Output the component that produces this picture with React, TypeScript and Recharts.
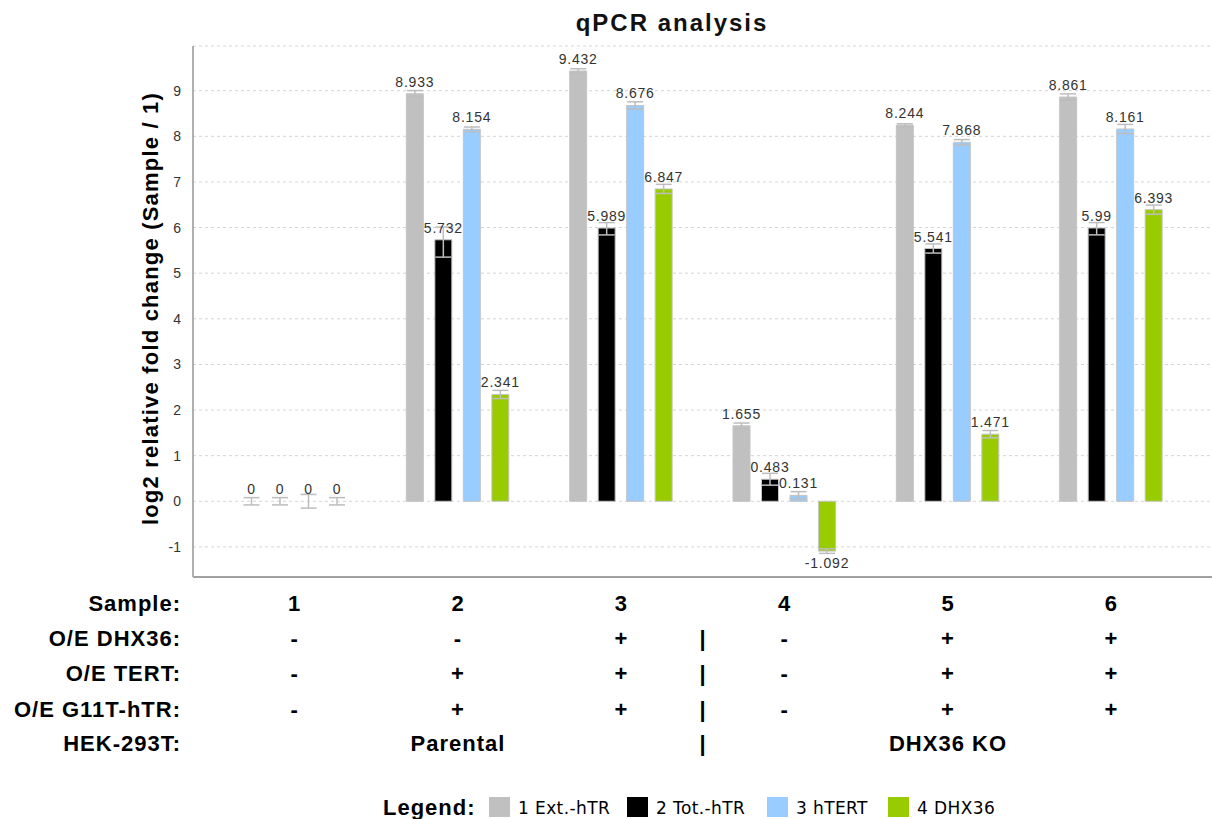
import React from 'react';
import { BarChart, Bar, XAxis, YAxis, CartesianGrid, ErrorBar, LabelList, Rectangle } from 'recharts';

const samples = ['1', '2', '3', '4', '5', '6'];
const seriesNames = ['1 Ext.-hTR', '2 Tot.-hTR', '3 hTERT', '4 DHX36'];
const seriesColors = ['#C0C0C0', '#000000', '#99CCFF', '#99CC00'];

const extHTR = [0, 8.933, 9.432, 1.655, 8.244, 8.861];
const totHTR = [0, 5.732, 5.989, 0.483, 5.541, 5.99];
const hTERT = [0, 8.154, 8.676, 0.131, 7.868, 8.161];
const dhx36 = [0, 2.341, 6.847, -1.092, 1.471, 6.393];

const extErr = [[0.08, 0.08], [0.07, 0.07], [0.05, 0.05], [0.06, 0.06], [0.03, 0.03], [0.07, 0.07]];
const totErr = [[0.08, 0.08], [0.38, 0.28], [0.15, 0.12], [0.13, 0.13], [0.1, 0.1], [0.15, 0.12]];
const hTERTErr = [[0.15, 0.15], [0.05, 0.05], [0.08, 0.08], [0.08, 0.08], [0.06, 0.06], [0.1, 0.1]];
const dhxErr = [[0.08, 0.08], [0.09, 0.09], [0.1, 0.1], [0.05, 0.05], [0.08, 0.08], [0.1, 0.1]];

const yTicks = [-1, 0, 1, 2, 3, 4, 5, 6, 7, 8, 9];
const yDomain = [-1.66, 9.98];

const rowLabels = ['Sample:', 'O/E DHX36:', 'O/E TERT:', 'O/E G11T-hTR:', 'HEK-293T:'];
const oeDHX36 = ['-', '-', '+', '-', '+', '+'];
const oeTERT = ['-', '+', '+', '-', '+', '+'];
const oeG11T = ['-', '+', '+', '-', '+', '+'];
const cellLines = ['', 'Parental', '', '', 'DHX36 KO', ''];
const separatorAfter = 2; // index of sample after which "|" is drawn

const title = 'qPCR analysis';
const yLabel = 'log2 relative fold change (Sample / 1)';

const data = samples.map((s, i) => ({
  sample: s,
  ext: extHTR[i],
  extErr: extErr[i],
  tot: totHTR[i],
  totErr: totErr[i],
  tert: hTERT[i],
  tertErr: hTERTErr[i],
  dhx: dhx36[i],
  dhxErr: dhxErr[i],
}));

const W = 1212;
const H = 819;
const PLOT_LEFT = 193;
const PLOT_TOP = 46;
const PLOT_BOTTOM = 577;
const PAD_L = 20;
const PAD_R = 19;
const HALF_BAND = (W - PLOT_LEFT - PAD_L - PAD_R) / samples.length / 2;

const ARIAL = '"Liberation Sans", Arial, sans-serif';
const ROW_Y = [611, 646, 681, 717, 751];

const boldText = {
  fontFamily: ARIAL,
  fontWeight: 700,
  fontSize: 22,
  letterSpacing: 1,
  fill: '#000',
};

const TableTick = (props: any) => {
  const { x, payload, index } = props;
  const i = typeof index === 'number' ? index : samples.indexOf(payload.value);
  const cols = [payload.value, oeDHX36[i], oeTERT[i], oeG11T[i], cellLines[i]];
  return (
    <g>
      {i === 0 &&
        rowLabels.map((lbl, r) => (
          <text key={'l' + r} x={181} y={ROW_Y[r]} textAnchor="end" style={boldText}>
            {lbl}
          </text>
        ))}
      {cols.map((c, r) =>
        c ? (
          <text key={'c' + r} x={x} y={ROW_Y[r]} textAnchor="middle" style={boldText}>
            {c}
          </text>
        ) : null
      )}
      {i === separatorAfter &&
        [1, 2, 3, 4].map((r) => (
          <text key={'s' + r} x={x + HALF_BAND} y={ROW_Y[r]} textAnchor="middle" style={boldText}>
            |
          </text>
        ))}
    </g>
  );
};

const ValueLabel = (props: any) => {
  const vb = props.viewBox || props;
  const x = vb.x ?? props.x;
  const y = vb.y ?? props.y;
  const width = vb.width ?? props.width;
  const height = vb.height ?? props.height;
  const value = props.value;
  const top = Math.min(y, y + height);
  const bottom = Math.max(y, y + height);
  const cx = x + width / 2;
  const ty = value < 0 ? bottom + 12 : top - 12;
  return (
    <text
      x={cx}
      y={ty}
      textAnchor="middle"
      dominantBaseline="central"
      style={{ fontFamily: ARIAL, fontSize: 14, letterSpacing: 0.8, fill: '#333' }}
    >
      {String(value)}
    </text>
  );
};

const BarShape = (props: any) => {
  if (Math.abs(props.height) < 0.5) return <g />;
  return <Rectangle {...props} />;
};

const seriesKeys = [
  { key: 'ext', err: 'extErr' },
  { key: 'tot', err: 'totErr' },
  { key: 'tert', err: 'tertErr' },
  { key: 'dhx', err: 'dhxErr' },
];

const legendX = [489, 627, 767, 888];

export default function App() {
  return (
    <div style={{ position: 'absolute', left: 0, top: 0, width: W, height: H, background: '#fff' }}>
      <BarChart
        width={W}
        height={H}
        data={data}
        margin={{ top: PLOT_TOP, right: 0, bottom: 0, left: 0 }}
        barSize={17}
        barGap={11.5}
      >
        <CartesianGrid horizontal vertical={false} stroke="#d4d4d4" strokeDasharray="3 3" />
        <XAxis
          xAxisId="top"
          orientation="top"
          dataKey="sample"
          height={0}
          tick={false}
          tickLine={false}
          axisLine={{ stroke: '#b8b8b8', strokeWidth: 2 }}
          padding={{ left: PAD_L, right: PAD_R }}
        />
        <XAxis
          dataKey="sample"
          height={H - PLOT_BOTTOM}
          interval={0}
          tickLine={false}
          axisLine={{ stroke: '#a0a0a0', strokeWidth: 2 }}
          padding={{ left: PAD_L, right: PAD_R }}
          tick={<TableTick />}
        />
        <YAxis
          width={PLOT_LEFT}
          domain={yDomain}
          ticks={yTicks}
          allowDataOverflow
          interval={0}
          tickLine={false}
          tickMargin={6}
          axisLine={{ stroke: '#b0b0b0', strokeWidth: 2 }}
          tick={{ fontFamily: ARIAL, fontSize: 14, fill: '#333' }}
        />
        {seriesKeys.map((s, k) => (
          <Bar
            key={s.key}
            dataKey={s.key}
            name={seriesNames[k]}
            fill={seriesColors[k]}
            stroke="#c4c4c4"
            strokeWidth={1}
            minPointSize={0.1}
            shape={<BarShape />}
            isAnimationActive={false}
          >
            <ErrorBar dataKey={s.err} width={8} stroke="#bdbdbd" strokeWidth={1.5} direction="y" />
            <LabelList dataKey={s.key} content={<ValueLabel />} />
          </Bar>
        ))}
      </BarChart>
      <svg
        width={W}
        height={H}
        style={{ position: 'absolute', left: 0, top: 0, pointerEvents: 'none' }}
      >
        <text
          x={672}
          y={31}
          textAnchor="middle"
          style={{ fontFamily: ARIAL, fontWeight: 700, fontSize: 24, letterSpacing: 2, fill: '#111' }}
        >
          {title}
        </text>
        <text
          transform={`translate(158, ${(PLOT_TOP + PLOT_BOTTOM) / 2 - 3}) rotate(-90)`}
          textAnchor="middle"
          style={{ ...boldText, letterSpacing: 1.2 }}
        >
          {yLabel}
        </text>
        <text x={383} y={815} style={boldText}>
          Legend:
        </text>
        {seriesNames.map((n, k) => (
          <g key={n}>
            <rect x={legendX[k]} y={797} width={21} height={20} fill={seriesColors[k]} />
            <text
              x={legendX[k] + 29}
              y={814}
              style={{ fontFamily: '"DejaVu Sans", Tahoma, sans-serif', fontSize: 17, letterSpacing: 0.4, fill: '#000' }}
            >
              {n}
            </text>
          </g>
        ))}
      </svg>
    </div>
  );
}
